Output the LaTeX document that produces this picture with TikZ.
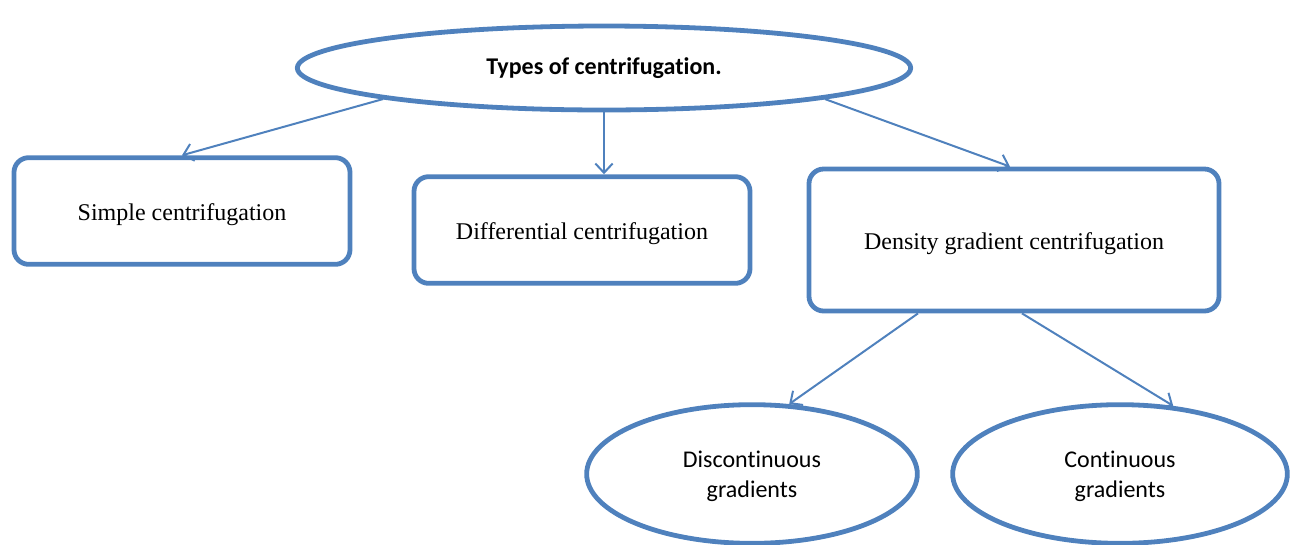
\documentclass[tikz,border=0pt]{standalone}
\usepackage{fontspec}
\setmainfont{Liberation Serif}
\newfontfamily\calib[Ligatures=NoCommon]{Carlito}
\usetikzlibrary{shapes.geometric,arrows.meta}
\definecolor{accblue}{HTML}{4F81BD}
\newcommand{\lowstrut}{\rule{0pt}{16pt}}
\tikzset{
  bigoval/.style={ellipse,draw=accblue,line width=3.6pt,inner sep=0pt,align=center,font=\calib\fontsize{18}{22}\selectfont},
  roundbox/.style={rectangle,rounded corners=11pt,draw=accblue,line width=3.6pt,inner sep=0pt,align=center,font=\fontsize{18}{22}\selectfont,text height=18.5pt,text depth=3.6pt},
  conn/.style={draw=accblue,line width=1.5pt,-{Straight Barb[length=7pt,width=13pt,line width=1.5pt]}}
}
\begin{document}
\begin{tikzpicture}[x=0.75pt,y=-0.75pt]
\useasboundingbox (0,0) rectangle (1297,544);
\node[bigoval,minimum width=460pt,minimum height=63pt,font=\calib\bfseries\fontsize{18}{22}\selectfont] (top) at (604,68) {Types of centrifugation.};
\node[roundbox,minimum width=252pt,minimum height=80pt] (b1) at (182,211) {Simple centrifugation};
\node[roundbox,minimum width=252pt,minimum height=80pt] (b2) at (582,230) {Differential centrifugation};
\node[roundbox,minimum width=307.5pt,minimum height=106.5pt] (b3) at (1014,240) {Density gradient centrifugation};
\node[bigoval,minimum width=248pt,minimum height=104pt] (d) at (752,474) {\lowstrut Discontinuous\\gradients};
\node[bigoval,minimum width=251pt,minimum height=104pt] (c) at (1120,474) {\lowstrut Continuous\\gradients};
\draw[conn] (top.188) -- (b1.north);
\draw[conn] (top.south) -- (top.south |- b2.north);
\draw[conn] (top.352) -- ([xshift=-3pt]b3.north);
\draw[conn] ([xshift=-72pt]b3.south) -- (d.62);
\draw[conn] ([xshift=6pt]b3.south) -- (c.52);
\end{tikzpicture}
\end{document}
